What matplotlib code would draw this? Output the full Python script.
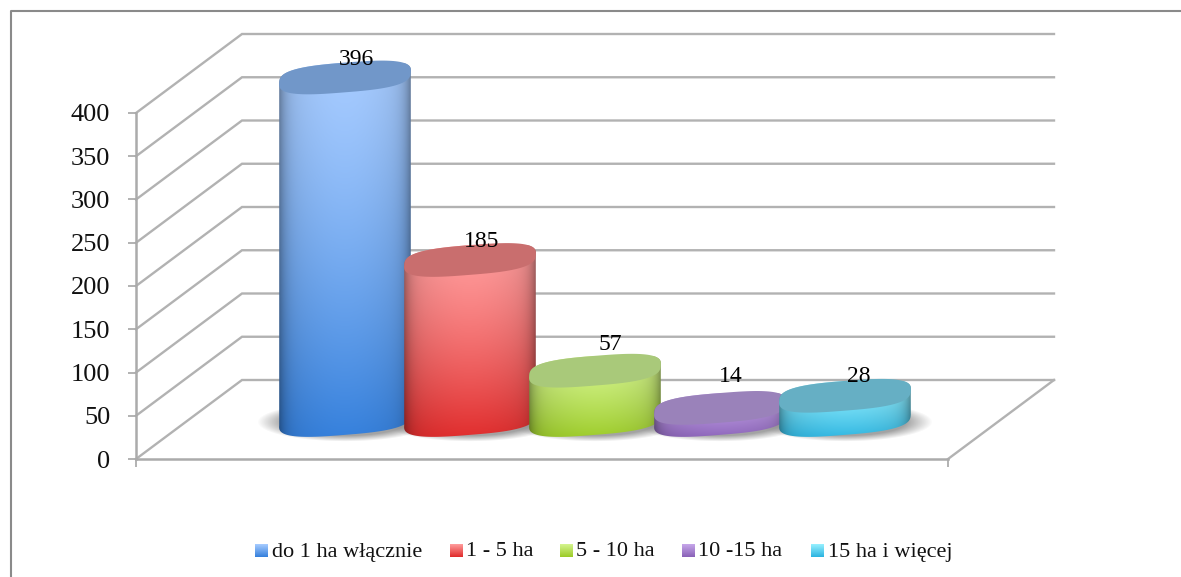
import numpy as np
import matplotlib
matplotlib.use('Agg')
import matplotlib.pyplot as plt
from matplotlib.lines import Line2D
from matplotlib.patches import Polygon

categories = ['do 1 ha włącznie', '1 - 5 ha', '5 - 10 ha', '10 -15 ha', '15 ha i więcej']
values = [396, 185, 57, 14, 28]
y_ticks = [0, 50, 100, 150, 200, 250, 300, 350, 400]

# kolory: gora walca, dol walca, pokrywka
light_colors = ['#A6CBFF', '#FF9C9C', '#D4F48E', '#C6A6EA', '#96F0FF']
dark_colors = ['#3580DC', '#E02C2C', '#9CCB28', '#8A62B8', '#2CB4E0']
cap_colors = ['#7197C9', '#C96E6E', '#A9C97A', '#9A82BA', '#66AFC4']

W, H = 1181, 577
K = 346 / 400  # pikseli na jednostke
Y0 = 459       # piksel wartosci 0
X_LEFT, X_RIGHT = 136, 948
DX = 106
DV = 79 / K
MID_V = 39 / K
BAR_STEP = 125
BAR_A = 66
BAR_B = 15
TILT = np.radians(4.5)
ROUND = 0.68  # ksztalt elipsy, troche "pelniejszy"

plt.rcParams['font.family'] = ['Liberation Serif', 'DejaVu Serif']

fig = plt.figure(figsize=(W / 100, H / 100), dpi=100)
ax = fig.add_axes([0, 0, 1, 1])
ax.patch.set_alpha(0)


def rgb(c):
    return np.array(matplotlib.colors.to_rgb(c))


def ellipse(cx, v, t):
    ct = np.sign(np.cos(t)) * np.abs(np.cos(t)) ** ROUND
    st = np.sign(np.sin(t)) * np.abs(np.sin(t)) ** ROUND
    px = BAR_A * ct * np.cos(TILT) - BAR_B * st * np.sin(TILT)
    py = -BAR_A * ct * np.sin(TILT) + BAR_B * st * np.cos(TILT)
    return cx + px, v - py / K


# sciany i siatka
grid_color = '#B2B2B2'
for v in y_ticks:
    ax.plot([X_LEFT, X_LEFT + DX, X_RIGHT + DX], [v, v + DV, v + DV],
            color=grid_color, lw=1.7, zorder=1, solid_joinstyle='miter')
ax.plot([X_RIGHT, X_RIGHT + DX], [0, DV], color=grid_color, lw=1.7, zorder=1)

centers = [X_LEFT + DX / 2 + (X_RIGHT - X_LEFT) / 2 + (i - 2) * BAR_STEP for i in range(len(values))]

# cienie pod walcami
for cx in centers:
    xs = np.linspace(cx - 90, cx + 90, 180)
    ys = np.linspace(-22, 22, 44)
    gx, gy = np.meshgrid(xs, ys)
    r = np.sqrt(((gx - cx) / 88) ** 2 + (gy / 20) ** 2)
    shadow = np.zeros(r.shape + (4,))
    shadow[..., :3] = 0.55
    shadow[..., 3] = np.clip((1 - r) / 0.3, 0, 1) * 0.8
    ax.imshow(shadow, extent=[cx - 90, cx + 90, MID_V - 24 / K, MID_V + 20 / K],
              aspect='auto', zorder=2, interpolation='bilinear')

# walce
t_low = np.linspace(0, np.pi, 60)
t_up = np.linspace(np.pi, 2 * np.pi, 60)
t_all = np.linspace(0, 2 * np.pi, 120)
for i, (cx, val) in enumerate(zip(centers, values)):
    z = 3 + i
    top_v = MID_V + val
    x1, y1 = ellipse(cx, MID_V, t_low)
    x2, y2 = ellipse(cx, top_v, t_up)
    body = Polygon(np.column_stack([np.r_[x1, x2], np.r_[y1, y2]]), closed=True,
                   transform=ax.transData, fc='none', ec='none')
    ax.add_patch(body)
    nx, ny = 120, 200
    u = np.linspace(-1, 1, nx)
    f = np.linspace(0, 1, ny)[:, None, None] ** 1.3
    grad = rgb(light_colors[i]) * (1 - f) + rgb(dark_colors[i]) * f
    shade = 1 - 0.12 * np.abs(u) ** 2 - 0.26 * np.abs(u) ** 10
    img = np.clip(grad * shade[None, :, None], 0, 1)
    im = ax.imshow(img, extent=[cx - BAR_A, cx + BAR_A, MID_V - 20 / K, top_v + 14 / K],
                   aspect='auto', zorder=z, interpolation='bilinear')
    im.set_clip_path(body)
    xc, yc = ellipse(cx, top_v, t_all)
    ax.add_patch(Polygon(np.column_stack([xc, yc]), closed=True, fc=cap_colors[i], ec='none', zorder=z))

# etykiety wartosci
label_shift = [(11, 18), (12, 18), (15, 26), (11, 31), (14, 19)]
for cx, val, (sx, sy) in zip(centers, values, label_shift):
    ax.text(cx + sx, MID_V + val + sy / K, str(val), ha='center', va='center', fontsize=17,
            color='black', zorder=20)

# os y i os x
ax.set_xlim(0, W)
ax.set_ylim((Y0 - H) / K, Y0 / K)
for side in ['top', 'right']:
    ax.spines[side].set_visible(False)
ax.spines['left'].set_position(('data', X_LEFT))
ax.spines['left'].set_bounds(0, 400)
ax.spines['bottom'].set_position(('data', 0))
ax.spines['bottom'].set_bounds(X_LEFT, X_RIGHT)
for side in ['left', 'bottom']:
    ax.spines[side].set_color('#ABABAB')
    ax.spines[side].set_linewidth(1.8)
ax.set_yticks(y_ticks)
ax.set_xticks([X_LEFT, X_RIGHT])
ax.set_xticklabels([])
ax.tick_params(axis='y', length=5.5, width=1.2, color='#A6A6A6', pad=13, labelsize=19, labelcolor='#111111')
ax.tick_params(axis='x', length=6, width=1.2, color='#A6A6A6', direction='out')

# legenda
legend_x = [255, 450, 560, 682, 811]
for i, (lx, name) in enumerate(zip(legend_x, categories)):
    f = np.linspace(0, 1, 26)[:, None, None]
    swatch = np.clip(rgb(light_colors[i]) * (1 - f) + rgb(dark_colors[i]) * f, 0, 1)
    ax.imshow(swatch, extent=[lx, lx + 12.5, (Y0 - 557) / K, (Y0 - 544) / K], aspect='auto', zorder=5)
    ax.text(lx + 16.5, (Y0 - 552) / K, name, ha='left', va='center', fontsize=16, color='#111111')

ax.set_xlim(0, W)
ax.set_ylim((Y0 - H) / K, Y0 / K)

# ramka
fig.add_artist(Line2D([11 / W, 11 / W, 1], [0, 1 - 11 / H, 1 - 11 / H], color='#8A8A8A', lw=1.5))

fig.savefig('out.png', dpi=100)
